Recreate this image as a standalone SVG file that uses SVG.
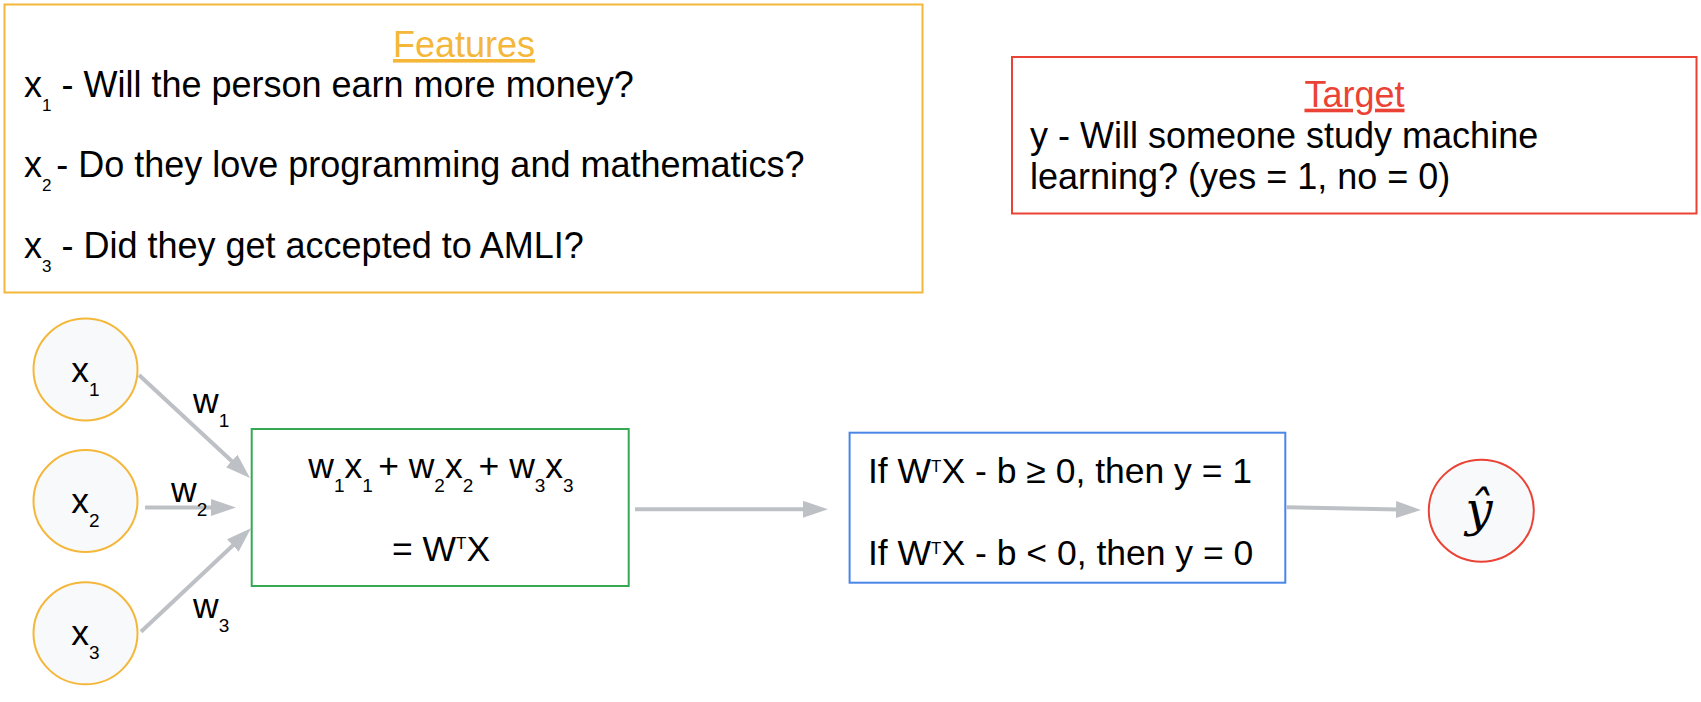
<svg xmlns="http://www.w3.org/2000/svg" width="1701" height="702" viewBox="0 0 1701 702">
<defs>
<marker id="ah" markerUnits="userSpaceOnUse" markerWidth="26" markerHeight="18" refX="15" refY="8.5" orient="auto"><path d="M0,0 L25,8.5 L0,17 z" fill="#BDC1C6"/></marker>
<style>
text{font-family:"Liberation Sans",Arial,sans-serif;fill:#000}
.t{font-size:36px}
.b{font-size:35.5px}
.s{font-size:17px}
.s2{font-size:19px}
.sup{font-size:17px}
.conn{stroke:#BDC1C6;stroke-width:4;fill:none;marker-end:url(#ah)}
.in{fill:#F8F9FA;stroke:#F4B73A;stroke-width:2}
</style>
</defs>
<rect width="1701" height="702" fill="#fff"/>

<g id="features">
<rect x="4.5" y="4.5" width="918" height="288" fill="#fff" stroke="#F4B73A" stroke-width="2"/>
<text class="t" x="464" y="57" text-anchor="middle" style="fill:#F4B73A" text-decoration="underline">Features</text>
<text class="t" x="24" y="97">x<tspan class="s" dy="14">1</tspan><tspan dy="-14"> - Will the person earn more money?</tspan></text>
<text class="t" x="24" y="177">x<tspan class="s" dy="14">2 </tspan><tspan dy="-14">- Do they love programming and mathematics?</tspan></text>
<text class="t" x="24" y="258">x<tspan class="s" dy="14">3</tspan><tspan dy="-14"> - Did they get accepted to AMLI?</tspan></text>
</g>

<g id="target">
<rect x="1012" y="57" width="684.5" height="156.5" fill="#fff" stroke="#EA4335" stroke-width="2"/>
<text class="t" x="1354.5" y="106.7" text-anchor="middle" style="fill:#EA4335" text-decoration="underline">Target</text>
<text class="t" x="1030" y="148">y - Will someone study machine</text>
<text class="t" x="1030" y="189">learning? (yes = 1, no = 0)</text>
</g>

<g id="connectors">
<path class="conn" d="M139,375 L242.7,471.2"/>
<path class="conn" d="M145,507.5 L226,507.5"/>
<path class="conn" d="M141,631.7 L243.7,535.2"/>
<path class="conn" d="M635,509.3 L818,509.3"/>
<path class="conn" d="M1286.7,507.3 L1411,509.8"/>
<text class="b" x="193" y="413">w<tspan class="s2" dy="14">1</tspan></text>
<text class="b" x="171" y="501.7">w<tspan class="s2" dy="14">2</tspan></text>
<text class="b" x="193" y="618.3">w<tspan class="s2" dy="14">3</tspan></text>
</g>

<g id="x1">
<ellipse class="in" cx="85.5" cy="369.5" rx="52" ry="51"/>
<text class="b" x="85.5" y="381.7" text-anchor="middle">x<tspan class="s2" dy="14">1</tspan></text>
</g>
<g id="x2">
<ellipse class="in" cx="85.5" cy="501" rx="52" ry="51"/>
<text class="b" x="85.5" y="513" text-anchor="middle">x<tspan class="s2" dy="14">2</tspan></text>
</g>
<g id="x3">
<ellipse class="in" cx="85.5" cy="633.3" rx="52" ry="51"/>
<text class="b" x="85.5" y="645" text-anchor="middle">x<tspan class="s2" dy="14">3</tspan></text>
</g>

<g id="sum">
<rect x="251.7" y="429" width="377" height="157" fill="#fff" stroke="#34A853" stroke-width="2"/>
<text class="b" x="441" y="478.3" text-anchor="middle">w<tspan class="s2" dy="14">1</tspan><tspan dy="-14">x</tspan><tspan class="s2" dy="14">1 </tspan><tspan dy="-14">+ w</tspan><tspan class="s2" dy="14">2</tspan><tspan dy="-14">x</tspan><tspan class="s2" dy="14">2 </tspan><tspan dy="-14">+ w</tspan><tspan class="s2" dy="14">3</tspan><tspan dy="-14">x</tspan><tspan class="s2" dy="14">3</tspan></text>
<text class="b" x="441" y="560.7" text-anchor="middle">= W<tspan class="sup" dy="-12">T</tspan><tspan dy="12">X</tspan></text>
</g>

<g id="threshold">
<rect x="849.6" y="432.7" width="435.7" height="150" fill="#fff" stroke="#4A86E8" stroke-width="2"/>
<text class="b" x="868" y="483.3">If W<tspan class="sup" dy="-11.5">T</tspan><tspan dy="11.5">X - b ≥ 0, then y = 1</tspan></text>
<text class="b" x="868" y="565">If W<tspan class="sup" dy="-11.5">T</tspan><tspan dy="11.5">X - b &lt; 0, then y = 0</tspan></text>
</g>

<g id="yhat">
<ellipse cx="1481.3" cy="510.7" rx="52.5" ry="51" fill="#F8F9FA" stroke="#EA4335" stroke-width="2"/>
<text x="1479" y="526" text-anchor="middle" style="font-family:'DejaVu Serif',serif;font-style:italic;font-size:48px">ŷ</text>
</g>
</svg>
